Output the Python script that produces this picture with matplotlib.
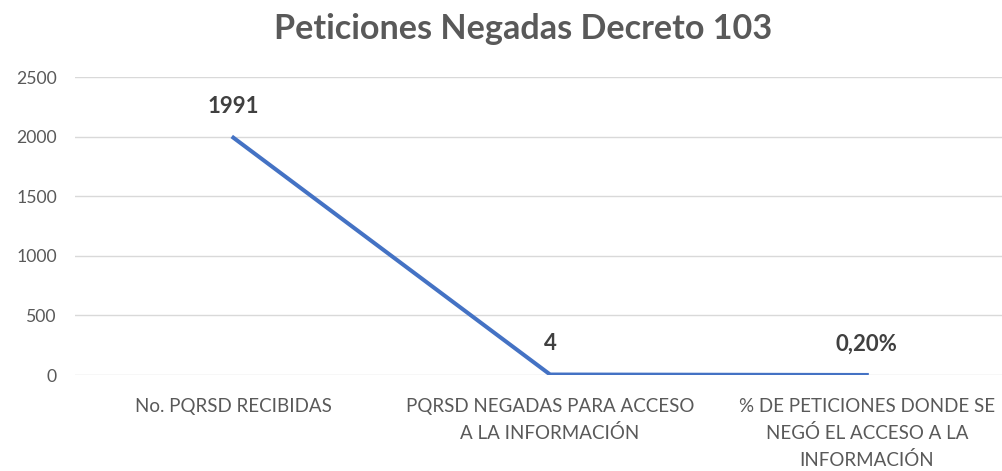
import matplotlib.pyplot as plt

categorias = ['No. PQRSD RECIBIDAS',
              'PQRSD NEGADAS PARA ACCESO\nA LA INFORMACIÓN',
              '% DE PETICIONES DONDE SE\nNEGÓ EL ACCESO A LA\nINFORMACIÓN']
valores = [1991, 4, 0.2]
etiquetas = ['1991', '4', '0,20%']
y_ticks = [0, 500, 1000, 1500, 2000, 2500]

plt.rcParams['font.family'] = ['Lato', 'DejaVu Sans']

fig = plt.figure(figsize=(10.03, 4.71), dpi=100)
ax = fig.add_axes([75 / 1003, 96 / 471, (1003 - 75) / 1003, 298 / 471])

x = list(range(len(valores)))
ax.plot(x, valores, color='#4472C4', linewidth=2.9, solid_joinstyle='miter', zorder=3)
for xi, v, t in zip(x, valores, etiquetas):
    ax.annotate(t, (xi, v), xytext=(0, 17.5), textcoords='offset points',
                ha='center', va='baseline', fontsize=16, fontweight='bold', color='#404040')

ax.set_xlim(-0.5, 2.43)
ax.set_ylim(0, 2500)
ax.set_yticks(y_ticks)
ax.set_yticklabels([str(t) for t in y_ticks])
ax.set_xticks(x)
ax.set_xticklabels(categorias, fontsize=13.5, color='#595959', linespacing=1.6)
ax.tick_params(axis='y', length=0, pad=13, labelsize=12.7, labelcolor='#595959')
ax.tick_params(axis='x', length=0, pad=16.5)
ax.grid(axis='y', color='#D9D9D9', linewidth=1)
ax.set_axisbelow(True)
for s in ax.spines.values():
    s.set_visible(False)

fig.text(523 / 1003, 1 - 39 / 471, 'Peticiones Negadas Decreto 103', ha='center', va='baseline',
         fontsize=24.6, fontweight='bold', color='#595959')

fig.savefig('out.png', dpi=100)
